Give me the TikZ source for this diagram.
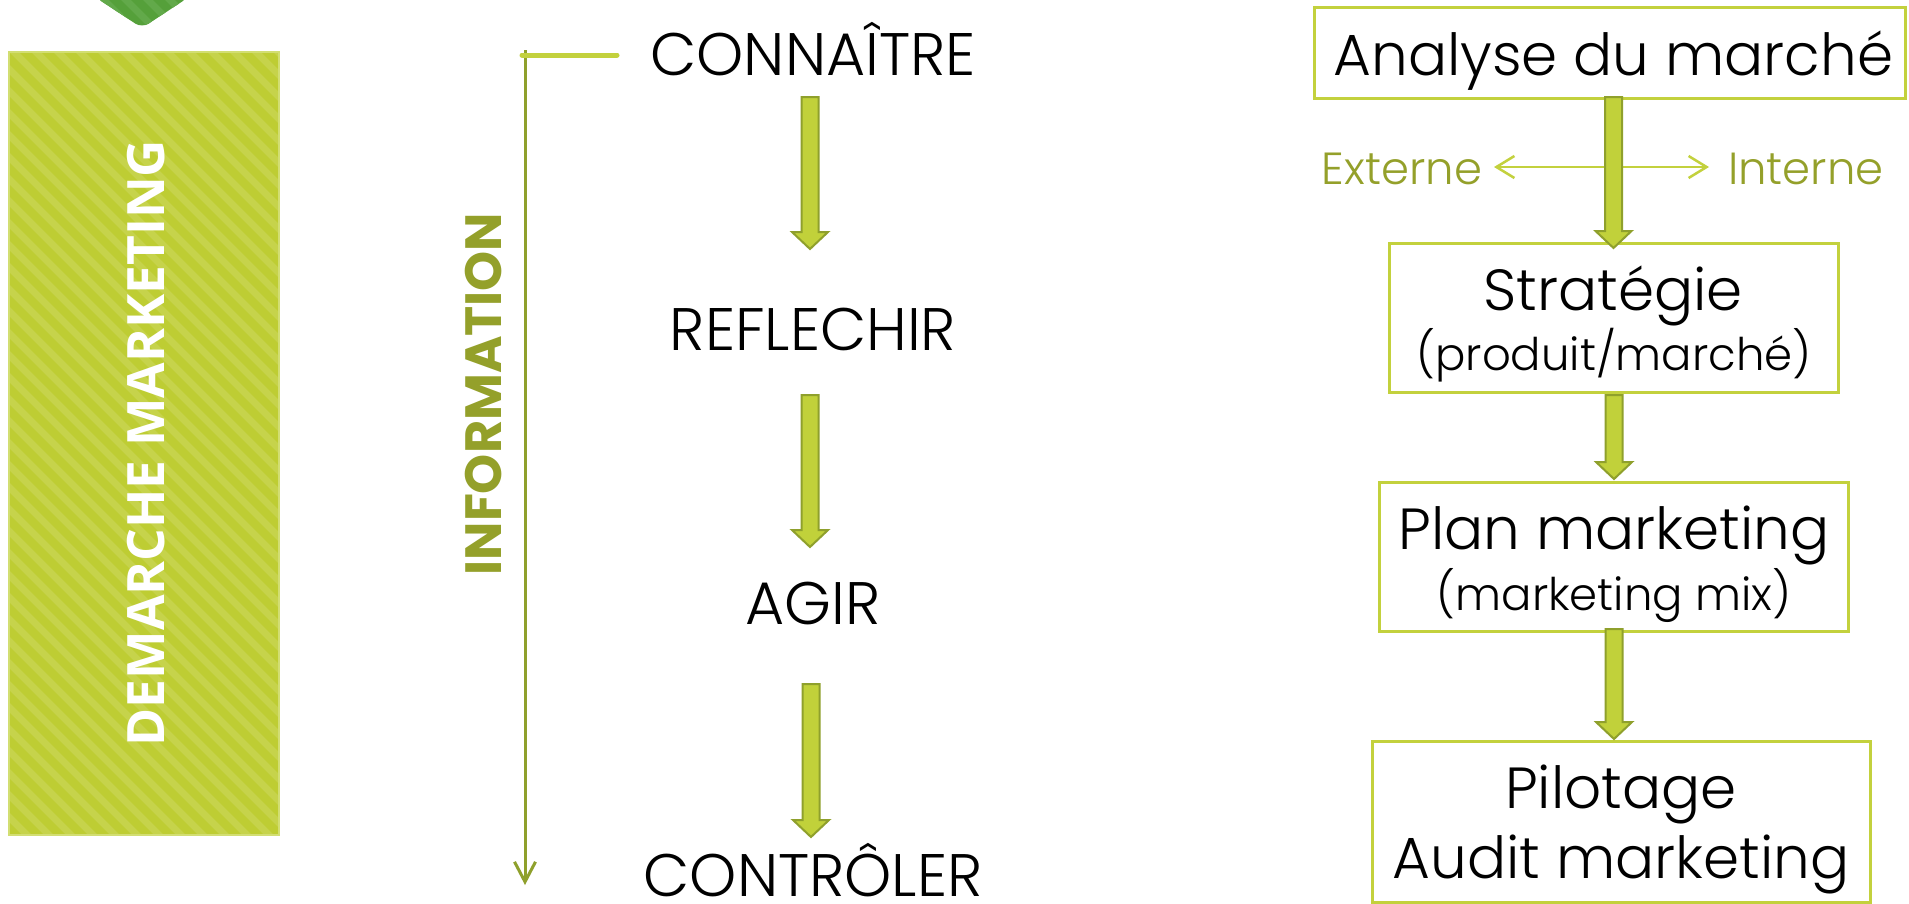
\documentclass[tikz,border=0pt]{standalone}
\usepackage{fontspec}
\setmainfont{Poppins Light}
\newfontfamily\popbold{Poppins}
\newfontfamily\boldsans{Open Sans}
\usetikzlibrary{arrows.meta,calc}
\definecolor{lgreen}{HTML}{C3D13D}
\definecolor{olive}{HTML}{94A02A}
\definecolor{rectgreen}{HTML}{BECD33}
\definecolor{stripegreen}{HTML}{C6D34B}
\definecolor{rectedge}{HTML}{D2DE72}
\definecolor{darkgreen}{HTML}{55A03A}
\definecolor{darkstripe}{HTML}{62A94A}
\definecolor{arrowfill}{HTML}{C1D13A}
\definecolor{arrowline}{HTML}{8FA02C}
\newcommand\blockarrow[2]{%
  \draw[barrow] ($(#1)+(-8.5,0)$) -- ($(#2)+(-8.5,-17)$) -- ($(#2)+(-18,-17)$) -- (#2)
    -- ($(#2)+(18,-17)$) -- ($(#2)+(8.5,-17)$) -- ($(#1)+(8.5,0)$) -- cycle;}
\begin{document}
\begin{tikzpicture}[x=1pt,y=-1pt,
  barrow/.style={fill=arrowfill,draw=arrowline,line width=2pt,line join=miter},
  boxframe/.style={draw=lgreen,line width=3pt,inner sep=0pt,outer sep=0pt},
  lbl/.style={inner sep=0pt,outer sep=0pt,font=\fontsize{58}{70}\selectfont},
  caplbl/.style={inner sep=0pt,outer sep=0pt,font=\fontsize{60}{70}\selectfont},
  sublbl/.style={inner sep=0pt,outer sep=0pt,font=\fontsize{45}{56}\selectfont},
  sidelbl/.style={inner sep=0pt,outer sep=0pt,text=olive,font=\fontsize{45}{54}\selectfont},
  thinarrow/.style={draw=lgreen,line width=2.5pt,-{Straight Barb[length=18pt,width=22pt,line width=2.5pt]}},
  stripe/.style={line width=7pt}]
\useasboundingbox (0,0) rectangle (1909,903);
\fill[white] (0,0) rectangle (1909,903);

% top dark green chevron
\begin{scope}
  \clip[rounded corners=8pt] (95,-3) -- (142,28) -- (189,-3) -- cycle;
  \fill[darkgreen] (80,-10) rectangle (200,40);
  \foreach \i in {-60,-38,...,200} \draw[darkstripe,stripe] (\i,-10) -- ++(60,60);
\end{scope}

% left striped bar
\node[fill=rectgreen,inner sep=0pt,outer sep=0pt,minimum width=270pt,minimum height=783pt] (bar) at (144,443.5) {};
\begin{scope}
  \clip (10,52) rectangle (279,835);
  \foreach \i in {-900,-878,...,300} \draw[stripegreen,stripe] (\i,40) -- ++(820,820);
\end{scope}
\draw[rectedge,line width=1.5pt] (bar.north west) rectangle (bar.south east);
\node[rotate=90,text=white,inner sep=0pt,font=\boldsans\bfseries\fontsize{51.5}{60}\selectfont] (dm) at (146,443) {DEMARCHE MARKETING};

% INFORMATION column
\node[rotate=90,text=olive,inner sep=0pt,font=\popbold\bfseries\fontsize{51}{60}\selectfont] (info) at (483.5,394) {INFORMATION};
\coordinate (vtop) at (525,50);
\coordinate (vbot) at (525,885);
\draw[draw=arrowline,line width=3pt,-{Straight Barb[length=20pt,width=21pt,line width=3pt]}] (vtop) -- (vbot);
\coordinate (hl) at (522,55);
\coordinate (hr) at (617,55);
\draw[lgreen,line width=5pt,line cap=round] (hl) -- (hr);

% left column steps
\node[caplbl,anchor=base] (c1) at (813,75) {CONNAÎTRE};
\node[caplbl,anchor=base] (c2) at (813,350) {REFLECHIR};
\node[caplbl,anchor=base] (c3) at (813,624) {AGIR};
\node[caplbl,anchor=base] (c4) at (813,896) {CONTRÔLER};
\coordinate (a1s) at (810,97);  \coordinate (a1e) at (810,249);
\coordinate (a2s) at (810,395); \coordinate (a2e) at (810,547);
\coordinate (a3s) at (811,684); \coordinate (a3e) at (811,837);
\blockarrow{a1s}{a1e}
\blockarrow{a2s}{a2e}
\blockarrow{a3s}{a3e}

% right column boxes
\node[boxframe,minimum width=591pt,minimum height=91pt] (box1) at (1609.5,52.5) {};
\node[boxframe,minimum width=449pt,minimum height=149pt] (box2) at (1613.5,317.5) {};
\node[boxframe,minimum width=469pt,minimum height=149pt] (box3) at (1613.5,556.5) {};
\node[boxframe,minimum width=498pt,minimum height=161pt] (box4) at (1621,821.5) {};

\node[lbl,anchor=base] (t1) at (1613.5,75) {Analyse du marché};
\node[lbl,anchor=base] (t2a) at (1613,310) {Stratégie};
\node[sublbl,anchor=base] (t2b) at (1614,370) {(produit/marché)};
\node[lbl,anchor=base] (t3a) at (1614,549) {Plan marketing};
\node[sublbl,anchor=base] (t3b) at (1614,610) {(marketing mix)};
\node[lbl,anchor=base] (t4a) at (1621,808) {Pilotage};
\node[lbl,anchor=base] (t4b) at (1621,878) {Audit marketing};

% Externe / Interne
\node[sidelbl,anchor=base east] (ext) at (1482,184) {Externe};
\node[sidelbl,anchor=base west] (int) at (1728,184) {Interne};
\coordinate (mid) at (1613.5,167);
\coordinate (extip) at (1494,167);
\coordinate (intip) at (1709,167);
\draw[thinarrow] (mid) -- (extip);
\draw[thinarrow] (mid) -- (intip);

\coordinate (r1s) at (1613.5,97);  \coordinate (r1e) at (1613.5,248);
\coordinate (r2s) at (1614,395);   \coordinate (r2e) at (1614,479);
\coordinate (r3s) at (1614,629);   \coordinate (r3e) at (1614,739);
\blockarrow{r1s}{r1e}
\blockarrow{r2s}{r2e}
\blockarrow{r3s}{r3e}
\end{tikzpicture}
\end{document}
